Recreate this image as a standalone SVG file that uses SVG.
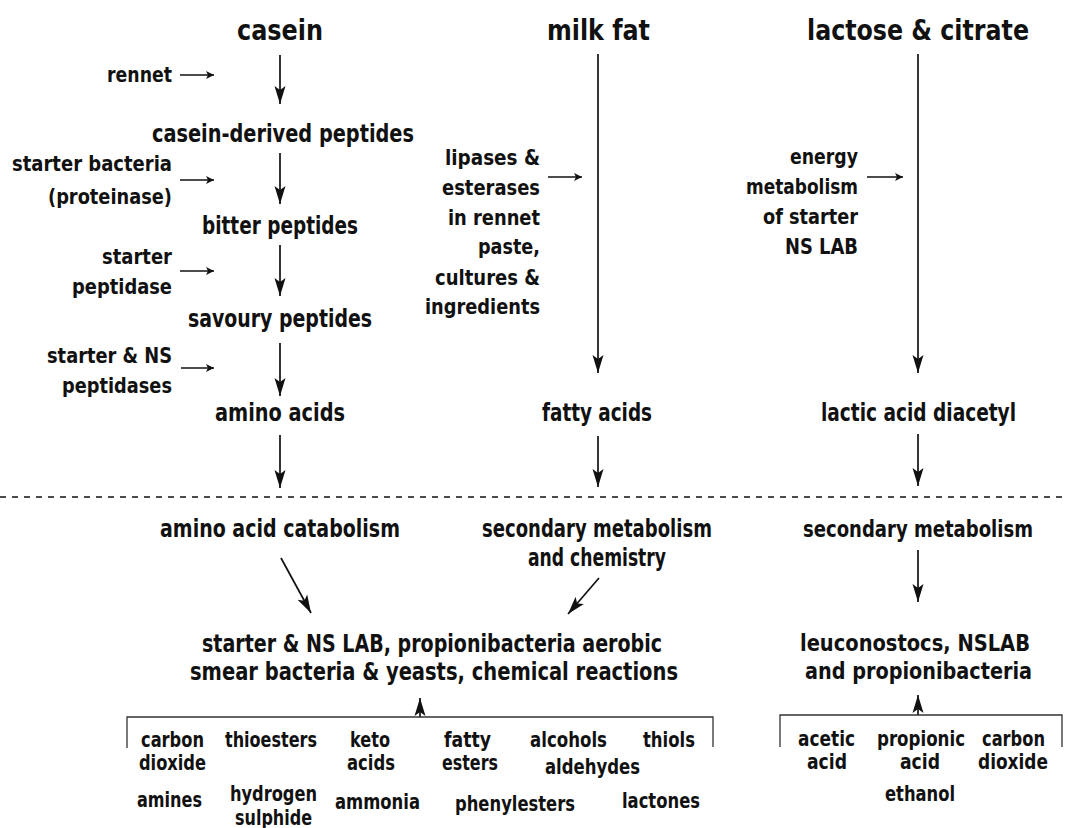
<svg xmlns="http://www.w3.org/2000/svg" width="1067" height="828" viewBox="0 0 1067 828">
<style>
text{font-family:"DejaVu Sans Condensed","DejaVu Sans","Liberation Sans",sans-serif;font-weight:bold;fill:#111}
.t{font-size:28px}
.m{font-size:25px}
.n{font-size:23px}
.s{font-size:22px}
.i{font-size:21px}
.c line{stroke:#111;stroke-width:1.7}
.c .side{stroke-width:1.3}
.dash{stroke:#999;stroke-width:1.5;stroke-dasharray:6 6}
.br{stroke:#333;stroke-width:1.3;fill:none}
</style>
<defs>
<marker id="ah" markerUnits="userSpaceOnUse" markerWidth="19" markerHeight="12" refX="18" refY="6" orient="auto"><path d="M0,0.5 L18,6 L0,11.5 L4,6 z" fill="#111"/></marker>
<marker id="sh" markerUnits="userSpaceOnUse" markerWidth="10" markerHeight="10" refX="9" refY="5" orient="auto"><path d="M1,1 L9,5 L1,9 L3,5 z" fill="#111"/></marker>
</defs>
<rect width="1067" height="828" fill="#fff"/>
<g id="casein"><text class="t" x="237" y="40" textLength="86" lengthAdjust="spacingAndGlyphs">casein</text></g>
<g id="milkfat"><text class="t" x="547" y="40" textLength="103" lengthAdjust="spacingAndGlyphs">milk fat</text></g>
<g id="lactose"><text class="t" x="807" y="40" textLength="222" lengthAdjust="spacingAndGlyphs">lactose &amp; citrate</text></g>
<g id="rennet"><text class="s" x="107" y="82" textLength="65" lengthAdjust="spacingAndGlyphs">rennet</text></g>
<g id="cdp"><text class="m" x="152" y="142" textLength="262" lengthAdjust="spacingAndGlyphs">casein-derived peptides</text></g>
<g id="starterbact"><text class="s" x="12" y="171" textLength="160" lengthAdjust="spacingAndGlyphs">starter bacteria</text><text class="s" x="48" y="204" textLength="124" lengthAdjust="spacingAndGlyphs">(proteinase)</text></g>
<g id="bitter"><text class="m" x="202" y="234" textLength="156" lengthAdjust="spacingAndGlyphs">bitter peptides</text></g>
<g id="starterpep"><text class="s" x="102" y="264" textLength="70" lengthAdjust="spacingAndGlyphs">starter</text><text class="s" x="72" y="294" textLength="100" lengthAdjust="spacingAndGlyphs">peptidase</text></g>
<g id="savoury"><text class="m" x="188" y="327" textLength="184" lengthAdjust="spacingAndGlyphs">savoury peptides</text></g>
<g id="starterns"><text class="s" x="47" y="363" textLength="125" lengthAdjust="spacingAndGlyphs">starter &amp; NS</text><text class="s" x="62" y="393" textLength="110" lengthAdjust="spacingAndGlyphs">peptidases</text></g>
<g id="aminoacids"><text class="m" x="215" y="421" textLength="130" lengthAdjust="spacingAndGlyphs">amino acids</text></g>
<g id="lipases">
<text class="s" x="445" y="165" textLength="95" lengthAdjust="spacingAndGlyphs">lipases &amp;</text>
<text class="s" x="442" y="195" textLength="98" lengthAdjust="spacingAndGlyphs">esterases</text>
<text class="s" x="448" y="225" textLength="92" lengthAdjust="spacingAndGlyphs">in rennet</text>
<text class="s" x="478" y="254" textLength="62" lengthAdjust="spacingAndGlyphs">paste,</text>
<text class="s" x="435" y="285" textLength="105" lengthAdjust="spacingAndGlyphs">cultures &amp;</text>
<text class="s" x="425" y="314" textLength="115" lengthAdjust="spacingAndGlyphs">ingredients</text>
</g>
<g id="fattyacids"><text class="m" x="542" y="421" textLength="110" lengthAdjust="spacingAndGlyphs">fatty acids</text></g>
<g id="energy">
<text class="s" x="790" y="164" textLength="68" lengthAdjust="spacingAndGlyphs">energy</text>
<text class="s" x="746" y="194" textLength="112" lengthAdjust="spacingAndGlyphs">metabolism</text>
<text class="s" x="763" y="224" textLength="95" lengthAdjust="spacingAndGlyphs">of starter</text>
<text class="s" x="785" y="254" textLength="73" lengthAdjust="spacingAndGlyphs">NS LAB</text>
</g>
<g id="lactic"><text class="m" x="821" y="421" textLength="195" lengthAdjust="spacingAndGlyphs">lactic acid diacetyl</text></g>
<g id="aacat"><text class="m" x="160" y="537" textLength="240" lengthAdjust="spacingAndGlyphs">amino acid catabolism</text></g>
<g id="secmet1"><text class="m" x="482" y="537" textLength="230" lengthAdjust="spacingAndGlyphs">secondary metabolism</text><text class="m" x="528" y="566" textLength="138" lengthAdjust="spacingAndGlyphs">and chemistry</text></g>
<g id="secmet2"><text class="n" x="803" y="537" textLength="230" lengthAdjust="spacingAndGlyphs">secondary metabolism</text></g>
<g id="starterlab"><text class="m" x="202" y="652" textLength="460" lengthAdjust="spacingAndGlyphs">starter &amp; NS LAB, propionibacteria aerobic</text><text class="m" x="190" y="680" textLength="488" lengthAdjust="spacingAndGlyphs">smear bacteria &amp; yeasts, chemical reactions</text></g>
<g id="leuco"><text class="n" x="800" y="651" textLength="230" lengthAdjust="spacingAndGlyphs">leuconostocs, NSLAB</text><text class="n" x="805" y="679" textLength="227" lengthAdjust="spacingAndGlyphs">and propionibacteria</text></g>
<g id="products1">
<text class="i" x="141" y="747" textLength="63" lengthAdjust="spacingAndGlyphs">carbon</text>
<text class="i" x="139" y="770" textLength="67" lengthAdjust="spacingAndGlyphs">dioxide</text>
<text class="i" x="225" y="747" textLength="92" lengthAdjust="spacingAndGlyphs">thioesters</text>
<text class="i" x="350" y="747" textLength="40" lengthAdjust="spacingAndGlyphs">keto</text>
<text class="i" x="347" y="770" textLength="48" lengthAdjust="spacingAndGlyphs">acids</text>
<text class="i" x="444" y="747" textLength="47" lengthAdjust="spacingAndGlyphs">fatty</text>
<text class="i" x="442" y="770" textLength="56" lengthAdjust="spacingAndGlyphs">esters</text>
<text class="i" x="530" y="747" textLength="77" lengthAdjust="spacingAndGlyphs">alcohols</text>
<text class="i" x="643" y="747" textLength="52" lengthAdjust="spacingAndGlyphs">thiols</text>
<text class="i" x="545" y="774" textLength="95" lengthAdjust="spacingAndGlyphs">aldehydes</text>
<text class="i" x="137" y="807" textLength="65" lengthAdjust="spacingAndGlyphs">amines</text>
<text class="i" x="230" y="801" textLength="87" lengthAdjust="spacingAndGlyphs">hydrogen</text>
<text class="i" x="235" y="825" textLength="77" lengthAdjust="spacingAndGlyphs">sulphide</text>
<text class="i" x="335" y="809" textLength="85" lengthAdjust="spacingAndGlyphs">ammonia</text>
<text class="i" x="455" y="811" textLength="120" lengthAdjust="spacingAndGlyphs">phenylesters</text>
<text class="i" x="622" y="808" textLength="78" lengthAdjust="spacingAndGlyphs">lactones</text>
</g>
<g id="products2">
<text class="i" x="798" y="746" textLength="57" lengthAdjust="spacingAndGlyphs">acetic</text>
<text class="i" x="807" y="769" textLength="40" lengthAdjust="spacingAndGlyphs">acid</text>
<text class="i" x="877" y="746" textLength="88" lengthAdjust="spacingAndGlyphs">propionic</text>
<text class="i" x="900" y="769" textLength="40" lengthAdjust="spacingAndGlyphs">acid</text>
<text class="i" x="982" y="746" textLength="63" lengthAdjust="spacingAndGlyphs">carbon</text>
<text class="i" x="978" y="769" textLength="70" lengthAdjust="spacingAndGlyphs">dioxide</text>
<text class="i" x="885" y="801" textLength="70" lengthAdjust="spacingAndGlyphs">ethanol</text>
</g>
<g id="connectors" class="c">
<line x1="280" y1="55" x2="280" y2="104" marker-end="url(#ah)"/>
<line x1="280" y1="153" x2="280" y2="204" marker-end="url(#ah)"/>
<line x1="280" y1="245" x2="280" y2="296" marker-end="url(#ah)"/>
<line x1="280" y1="343" x2="280" y2="396" marker-end="url(#ah)"/>
<line x1="280" y1="435" x2="280" y2="488" marker-end="url(#ah)"/>
<line x1="598" y1="54" x2="598" y2="373" marker-end="url(#ah)"/>
<line x1="598" y1="436" x2="598" y2="487" marker-end="url(#ah)"/>
<line x1="918" y1="54" x2="918" y2="373" marker-end="url(#ah)"/>
<line x1="918" y1="434" x2="918" y2="486" marker-end="url(#ah)"/>
<line x1="281" y1="558" x2="311" y2="613" marker-end="url(#ah)"/>
<line x1="599" y1="578" x2="568" y2="614" marker-end="url(#ah)"/>
<line x1="918" y1="550" x2="918" y2="602" marker-end="url(#ah)"/>
<line class="side" x1="180" y1="75" x2="214" y2="75" marker-end="url(#sh)"/>
<line class="side" x1="180" y1="180" x2="214" y2="180" marker-end="url(#sh)"/>
<line class="side" x1="180" y1="271" x2="214" y2="271" marker-end="url(#sh)"/>
<line class="side" x1="181" y1="368" x2="214" y2="368" marker-end="url(#sh)"/>
<line class="side" x1="548" y1="177" x2="582" y2="177" marker-end="url(#sh)"/>
<line class="side" x1="867" y1="177" x2="903" y2="177" marker-end="url(#sh)"/>
<line x1="420" y1="717" x2="420" y2="698" marker-end="url(#ah)"/>
<line x1="918" y1="715" x2="918" y2="695" marker-end="url(#ah)"/>
<line class="dash" x1="0" y1="497" x2="1067" y2="497"/>
<path class="br" d="M127,748 V717 H713 V747"/>
<path class="br" d="M780,747 V715 H1062 V747"/>
</g>
</svg>
